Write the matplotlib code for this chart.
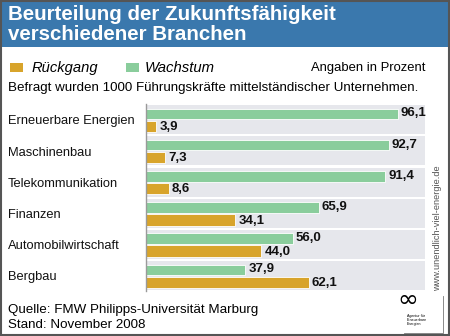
import matplotlib
matplotlib.use("Agg")
import matplotlib.pyplot as plt
from matplotlib.patches import Rectangle

plt.rcParams['font.family'] = ['Liberation Sans', 'DejaVu Sans']

categories = ["Erneuerbare Energien", "Maschinenbau", "Telekommunikation",
              "Finanzen", "Automobilwirtschaft", "Bergbau"]
wachstum = [96.1, 92.7, 91.4, 65.9, 56.0, 37.9]
rueckgang = [3.9, 7.3, 8.6, 34.1, 44.0, 62.1]

W, H = 450, 336
fig = plt.figure(figsize=(W / 100, H / 100), dpi=100)
fig.patch.set_facecolor("white")

def fx(px):
    return px / W

def fy(py):
    return 1 - py / H

GREEN = "#8acd9c"
GOLD = "#d8a42b"
BAND = "#e6e7ec"
BLUE = "#3a78ad"

# header band
fig.patches.append(Rectangle((0, fy(47)), 1, 47 / H, transform=fig.transFigure,
                             facecolor=BLUE, edgecolor="none", zorder=0))
fig.text(fx(8), fy(14), "Beurteilung der Zukunftsfähigkeit", color="white",
         fontsize=14.8, fontweight="bold", va="center", ha="left")
fig.text(fx(8), fy(35), "verschiedener Branchen", color="white",
         fontsize=14.8, fontweight="bold", va="center", ha="left")

# legend
fig.patches.append(Rectangle((fx(10), fy(72)), 13 / W, 9 / H, transform=fig.transFigure,
                             facecolor=GOLD, edgecolor="none"))
fig.text(fx(32), fy(68), "Rückgang", fontsize=10.6, style="italic", va="center")
fig.patches.append(Rectangle((fx(126), fy(72)), 13 / W, 9 / H, transform=fig.transFigure,
                             facecolor=GREEN, edgecolor="none"))
fig.text(fx(145), fy(68), "Wachstum", fontsize=10.7, style="italic", va="center")
fig.text(fx(425), fy(68), "Angaben in Prozent", fontsize=9.4, va="center", ha="right")
fig.text(fx(8), fy(88), "Befragt wurden 1000 Führungskräfte mittelständischer Unternehmen.",
         fontsize=9.6, va="center", ha="left")

# chart
ax = fig.add_axes([fx(146), fy(291), (425 - 146) / W, (291 - 104) / H])
ax.set_xlim(0, 106.5)
ax.set_ylim(len(categories), 0)
for i in range(len(categories)):
    ax.axhspan(i + 0.04, i + 0.97, color=BAND, zorder=0, lw=0)

pos = list(range(len(categories)))
gy = [p + 0.32 for p in pos]
ry = [p + 0.72 for p in pos]
ax.barh(gy, wachstum, height=0.34, color=GREEN, edgecolor="white", linewidth=0.6, zorder=2)
ax.barh(ry, rueckgang, height=0.36, color=GOLD, edgecolor="white", linewidth=0.6, zorder=2)

def fmt(v):
    return f"{v:.1f}".replace(".", ",")

for y, v in zip(gy, wachstum):
    ax.text(v + 1.2, y - 0.02, fmt(v), va="center", ha="left", fontsize=9.5,
            fontweight="bold", color="#111111")
for y, v in zip(ry, rueckgang):
    ax.text(v + 1.2, y + 0.02, fmt(v), va="center", ha="left", fontsize=9.5,
            fontweight="bold", color="#111111")

for i, c in enumerate(categories):
    ax.text(-138 / 2.62, i + 0.56, c, va="center", ha="left", fontsize=9.3,
            color="#111111", clip_on=False)

for s in ["top", "right", "bottom"]:
    ax.spines[s].set_visible(False)
ax.spines["left"].set_color("#9a9a9a")
ax.spines["left"].set_linewidth(1.0)
ax.set_xticks([])
ax.set_yticks([])
ax.set_facecolor("white")

# vertical url
fig.text(fx(438), fy(228), "www.unendlich-viel-energie.de", rotation=90,
         fontsize=6.7, color="#555555", va="center", ha="center")

# footer
fig.text(fx(8), fy(310), "Quelle: FMW Philipps-Universität Marburg", fontsize=9.6,
         va="center", ha="left")
fig.text(fx(8), fy(325), "Stand: November 2008", fontsize=9.6, va="center", ha="left")

# logo
fig.text(fx(408), fy(300), "∞", fontsize=18, va="center",
         ha="center", family=["DejaVu Sans"])
fig.text(fx(407), fy(320), "Agentur für\nErneuerbare\nEnergien", fontsize=2.6,
         va="center", ha="left", linespacing=1.0)
fig.lines.append(plt.Line2D([fx(404), fx(443), fx(443)], [fy(333), fy(333), fy(296)],
                            transform=fig.transFigure, color="#777777", lw=0.6))

# outer border
fig.patches.append(Rectangle((0.002, 0.003), 0.995, 0.994, transform=fig.transFigure,
                             facecolor="none", edgecolor="#555555", lw=1.5, zorder=10))

fig.savefig("out.png", dpi=100)
